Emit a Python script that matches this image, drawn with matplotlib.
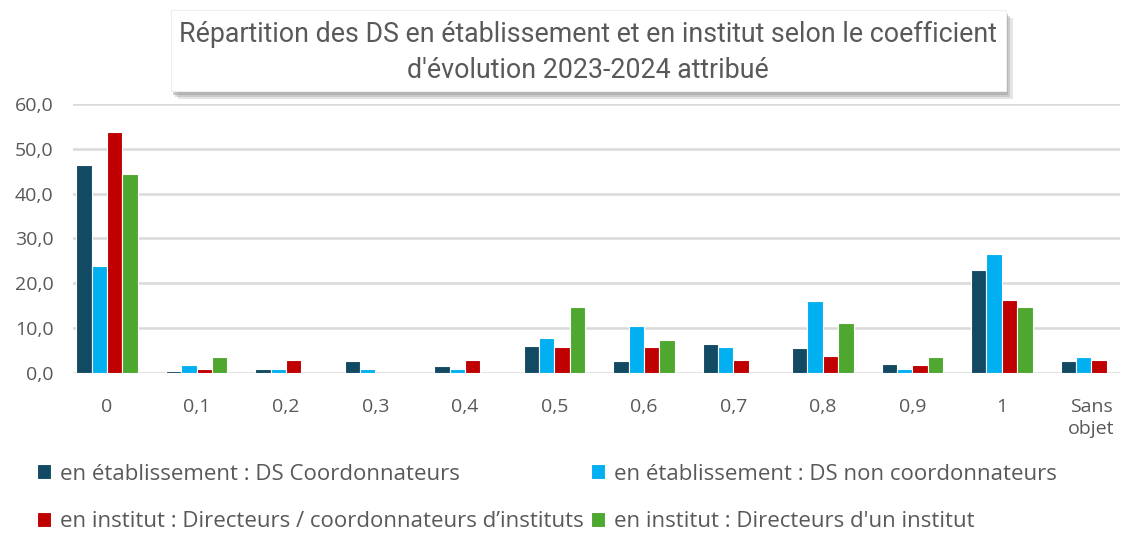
import matplotlib.pyplot as plt
import matplotlib.patches as mpatches
import numpy as np

# coefficient categories
categories = ['0', '0,1', '0,2', '0,3', '0,4', '0,5', '0,6', '0,7', '0,8', '0,9', '1', 'Sans\nobjet']

# series (percent)
etab_coord = [46.5, 0.4, 0.9, 2.6, 1.5, 6.1, 2.6, 6.4, 5.6, 2.0, 23.0, 2.6]
etab_non_coord = [23.8, 1.7, 0.9, 0.9, 0.9, 7.7, 10.4, 5.8, 16.1, 0.9, 26.5, 3.6]
inst_dir_coord = [53.8, 0.9, 2.8, 0, 2.8, 5.8, 5.8, 2.8, 3.9, 1.7, 16.3, 2.8]
inst_dir = [44.3, 3.6, 0, 0, 0, 14.7, 7.4, 0, 11.1, 3.6, 14.7, 0]

series_labels = ['en établissement : DS Coordonnateurs',
                 'en établissement : DS non coordonnateurs',
                 'en institut : Directeurs / coordonnateurs d\u2019instituts',
                 'en institut : Directeurs d\'un institut']
colors = ['#124A63', '#00B0F0', '#C00000', '#4EA72E']

plt.rcParams['font.family'] = ['Open Sans', 'DejaVu Sans']
txt = '#595959'

fig = plt.figure(figsize=(11.24, 5.33), dpi=100)
ax = fig.add_axes([0.065, 0.3002, 0.9314, 0.5047])

x = np.arange(len(categories))
w = 0.172
data = [etab_coord, etab_non_coord, inst_dir_coord, inst_dir]
bars = []
for i, (vals, c) in enumerate(zip(data, colors)):
    b = ax.bar(x + (i - 1.5) * w, vals, w, color=c, edgecolor='white', linewidth=0.8, zorder=3)
    bars.append(b)

ax.set_ylim(0, 60)
ax.set_xlim(-0.38, 11.32)
yt = np.arange(0, 61, 10)
ax.set_yticks(yt)
ax.set_yticklabels([('%.1f' % v).replace('.', ',') for v in yt])
ax.set_xticks(x)
ax.set_xticklabels(categories, linespacing=1.3)
ax.tick_params(axis='both', length=0, labelsize=14, labelcolor=txt)
ax.tick_params(axis='x', pad=18)
ax.tick_params(axis='y', pad=14)
ax.grid(axis='y', color='#D9D9D9', linewidth=1.8, zorder=0)
for s in ax.spines.values():
    s.set_visible(False)

# title box with soft shadow
for k, a in enumerate([0.25, 0.35, 0.45]):
    d = 0.002 * (3 - k)
    fig.patches.append(mpatches.Rectangle((0.152 + d, 0.826 - d * 2.1), 0.743, 0.152,
                                          transform=fig.transFigure, facecolor='#9A9A9A',
                                          edgecolor='none', alpha=a, zorder=1))
box = mpatches.Rectangle((0.152, 0.83), 0.743, 0.152, transform=fig.transFigure,
                         facecolor='white', edgecolor='#EDEDED', linewidth=0.8, zorder=2)
fig.patches.append(box)
fig.text(0.523, 0.902, 'Répartition des DS en établissement et en institut selon le coefficient\n'
         'd\'évolution 2023-2024 attribué', ha='center', va='center', fontsize=19.3,
         family=['Roboto', 'DejaVu Sans'], color=txt, linespacing=1.45, zorder=3)

handles = [bars[0], bars[2], bars[1], bars[3]]
labels = [series_labels[0], series_labels[2], series_labels[1], series_labels[3]]
fig.legend(handles, labels, loc='upper left', bbox_to_anchor=(0.025, 0.147), ncol=2,
           frameon=False, fontsize=16, labelcolor=txt, handlelength=0.65, handleheight=0.65,
           handletextpad=0.4, columnspacing=0.3, labelspacing=1.2, borderaxespad=0)

fig.savefig('out.png', dpi=100)
